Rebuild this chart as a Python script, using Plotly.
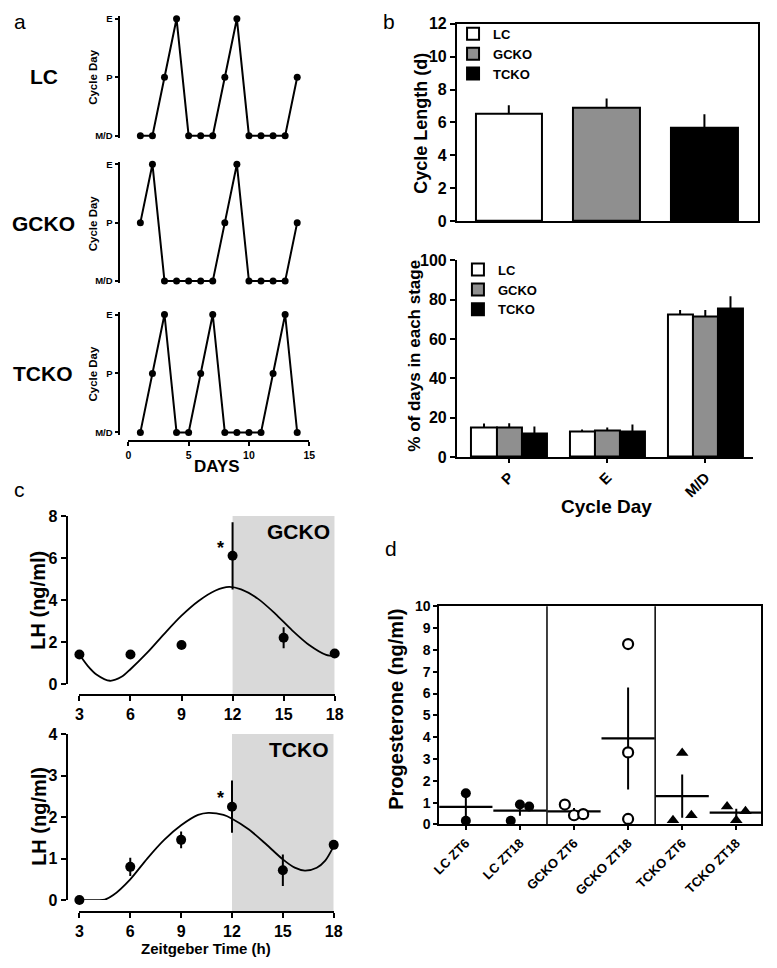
import numpy as np
import plotly.graph_objects as go

W, H = 777, 968
FONT = "Liberation Sans, Arial, sans-serif"


def fx(p):
    return p / W


def fy(p):
    return 1 - p / H


# ---------------- data ----------------
# panel a: estrous stage per day
days = list(range(1, 15))
stage_order = ["M/D", "P", "E"]
lc_stage = ["M/D", "M/D", "P", "E", "M/D", "M/D", "M/D", "P", "E", "M/D", "M/D", "M/D", "M/D", "P"]
gcko_stage = ["P", "E", "M/D", "M/D", "M/D", "M/D", "M/D", "P", "E", "M/D", "M/D", "M/D", "M/D", "P"]
tcko_stage = ["M/D", "P", "E", "M/D", "M/D", "P", "E", "M/D", "M/D", "M/D", "M/D", "P", "E", "M/D"]
day_ticks = [0, 5, 10, 15]

# panel b
genotypes = ["LC", "GCKO", "TCKO"]
geno_colors = ["#ffffff", "#8f8f8f", "#000000"]
cycle_len = [6.55, 6.9, 5.7]
cycle_len_err = [0.5, 0.55, 0.8]
stages = ["P", "E", "M/D"]
pct_lc = [15.0, 12.8, 72.3]
pct_gcko = [15.2, 13.7, 71.5]
pct_tcko = [12.0, 13.0, 75.5]
pct_lc_err = [2.0, 1.2, 2.5]
pct_gcko_err = [2.0, 1.3, 3.3]
pct_tcko_err = [3.5, 3.5, 6.3]

# panel c
zt = [3, 6, 9, 12, 15, 18]
lh_gcko = [1.4, 1.4, 1.85, 6.1, 2.2, 1.45]
lh_gcko_err = [0, 0, 0, 1.6, 0.5, 0]
lh_tcko = [0.0, 0.8, 1.45, 2.25, 0.72, 1.33]
lh_tcko_err = [0, 0.22, 0.2, 0.63, 0.38, 0]
fit_gcko_t = [3, 3.5, 4, 4.8, 5.5, 6, 7, 8, 9, 10, 11, 11.8, 12.5, 13.5, 14.5, 15.5, 16.5, 17.5, 18]
fit_gcko_v = [1.4, 0.85, 0.45, 0.15, 0.35, 0.7, 1.5, 2.4, 3.25, 3.95, 4.45, 4.62, 4.5, 4.05, 3.35, 2.55, 1.85, 1.38, 1.33]
fit_tcko_t = [3, 4, 4.5, 5, 6, 7, 8, 9, 10, 10.6, 11.5, 12, 13, 14, 15, 15.7, 16.3, 17, 17.5, 18]
fit_tcko_v = [0, 0, 0.01, 0.12, 0.5, 1.0, 1.45, 1.8, 2.05, 2.1, 2.05, 1.96, 1.7, 1.35, 0.98, 0.78, 0.71, 0.78, 0.95, 1.3]
zt_ticks = [3, 6, 9, 12, 15, 18]

# panel d
prog_groups = ["LC ZT6", "LC ZT18", "GCKO ZT6", "GCKO ZT18", "TCKO ZT6", "TCKO ZT18"]
prog_values = [
    [1.43, 0.17],
    [0.17, 0.91, 0.82],
    [0.91, 0.42, 0.47],
    [0.25, 3.3, 8.27],
    [0.19, 3.27, 0.42],
    [0.82, 0.19, 0.6],
]

# ---------------- figure ----------------
fig = go.Figure()
BOLD = dict(family=FONT, color="black", weight="bold")

# panel a
for stg, ya in [(lc_stage, "y"), (gcko_stage, "y2"), (tcko_stage, "y3")]:
    fig.add_trace(go.Scatter(
        x=days, y=stg, xaxis="x", yaxis=ya, mode="lines+markers",
        line=dict(color="black", width=2), marker=dict(color="black", size=7),
        showlegend=False, cliponaxis=False))

# panel b top
for i, g in enumerate(genotypes):
    fig.add_trace(go.Bar(
        x=[i], y=[cycle_len[i]], xaxis="x2", yaxis="y4", width=0.68, offset=-0.34,
        marker=dict(color=geno_colors[i], line=dict(color="black", width=2)),
        error_y=dict(type="data", array=[cycle_len_err[i]], arrayminus=[0], symmetric=False,
                     color="black", thickness=2, width=0),
        name=g, legend="legend"))

# panel b bottom
pct_sets = [(pct_lc, pct_lc_err), (pct_gcko, pct_gcko_err), (pct_tcko, pct_tcko_err)]
bw = 0.257
for i, g in enumerate(genotypes):
    vals, errs = pct_sets[i]
    fig.add_trace(go.Bar(
        x=list(range(len(stages))), y=vals, xaxis="x3", yaxis="y5", width=bw,
        offset=-1.5 * bw + i * bw,
        marker=dict(color=geno_colors[i], line=dict(color="black", width=2)),
        error_y=dict(type="data", array=errs, arrayminus=[0] * len(errs), symmetric=False,
                     color="black", thickness=2, width=0),
        name=g, legend="legend2"))

# panel c
for t, v, e, ft, fv, xa, ya in [
    (zt, lh_gcko, lh_gcko_err, fit_gcko_t, fit_gcko_v, "x4", "y6"),
    (zt, lh_tcko, lh_tcko_err, fit_tcko_t, fit_tcko_v, "x5", "y7"),
]:
    fig.add_trace(go.Scatter(
        x=ft, y=fv, xaxis=xa, yaxis=ya, mode="lines",
        line=dict(color="black", width=1.8, shape="spline", smoothing=0.8),
        showlegend=False, hoverinfo="skip"))
    fig.add_trace(go.Scatter(
        x=t, y=v, xaxis=xa, yaxis=ya, mode="markers",
        marker=dict(color="black", size=10),
        error_y=dict(type="data", array=e, color="black", thickness=2, width=0),
        showlegend=False, cliponaxis=False))

# panel d
styles = [("circle", "black"), ("circle", "black"), ("circle", "white"), ("circle", "white"),
          ("triangle-up", "black"), ("triangle-up", "black")]
for gi, vals in enumerate(prog_values):
    vals_arr = np.array(vals)
    n = len(vals_arr)
    spread = 0.17 if (n >= 3 and vals_arr.max() - vals_arr.min() < 4) else 0.0
    xs = [gi + (k - (n - 1) / 2) * spread for k in range(n)]
    sym, col = styles[gi]
    mean = vals_arr.mean()
    sem = vals_arr.std(ddof=1) / np.sqrt(n)
    fig.add_trace(go.Scatter(
        x=[gi], y=[mean], xaxis="x6", yaxis="y8", mode="markers",
        marker=dict(symbol="line-ew", size=38, line=dict(color="black", width=2.2)),
        error_y=dict(type="data", array=[sem], color="black", thickness=2, width=0),
        showlegend=False, cliponaxis=False))
    fig.add_trace(go.Scatter(
        x=xs, y=vals, xaxis="x6", yaxis="y8", mode="markers",
        marker=dict(symbol=sym, size=11 if sym == "triangle-up" else 10, color=col,
                    line=dict(color="black", width=2.2 if col == "white" else 0)),
        showlegend=False, cliponaxis=False))

# ---------------- axes ----------------
ax_common = dict(showline=True, linecolor="black", linewidth=2, ticks="outside", tickcolor="black",
                 tickwidth=2, showgrid=False, zeroline=False)

layout = dict(
    width=W, height=H, margin=dict(l=0, r=0, t=0, b=0),
    paper_bgcolor="white", plot_bgcolor="rgba(0,0,0,0)",
    font=dict(family=FONT, color="black"),
    bargap=0, barmode="overlay",
)

# panel a axes
pad = 0.04
layout["xaxis"] = dict(ax_common, domain=[fx(123), fx(308)], range=[0, 15], anchor="free", position=fy(441),
                       tickvals=day_ticks, ticklen=4, tickfont=dict(BOLD, size=10.5))
for name, top, bot in [("yaxis", 11, 130), ("yaxis2", 159, 278), ("yaxis3", 312, 432)]:
    span = bot - top
    layout[name] = dict(ax_common, type="category", categoryorder="array", categoryarray=stage_order,
                        range=[-pad, 2 + pad], domain=[fy(bot + pad / 2 * span), fy(top - pad / 2 * span)],
                        anchor="free", position=fx(113), ticklen=3, tickwidth=1.5,
                        tickfont=dict(BOLD, size=9.5))

# panel b top
layout["xaxis2"] = dict(ax_common, domain=[fx(459), fx(767)], range=[-0.53, 2.55], anchor="y4",
                        showticklabels=False, ticks="", mirror=True)
layout["yaxis4"] = dict(ax_common, domain=[fy(217), fy(16)], range=[0, 12], dtick=2, anchor="x2",
                        mirror=True, ticklen=5, tickfont=dict(BOLD, size=16))
# panel b bottom
layout["xaxis3"] = dict(ax_common, domain=[fx(459), fx(762)], range=[-0.533, 2.49], anchor="y5",
                        tickvals=[0, 1, 2], ticktext=stages, tickangle=-45, ticklen=4,
                        tickfont=dict(BOLD, size=15))
layout["yaxis5"] = dict(ax_common, domain=[fy(457), fy(257)], range=[0, 100], dtick=20, anchor="x3",
                        ticklen=5, tickfont=dict(BOLD, size=16))
# panel c
layout["xaxis4"] = dict(ax_common, domain=[fx(73), fx(334)], range=[3, 18], anchor="free", position=fy(699),
                        tickvals=zt_ticks, ticklen=5, tickfont=dict(BOLD, size=16))
layout["yaxis6"] = dict(ax_common, domain=[fy(688), fy(517)], range=[0, 8], dtick=2, anchor="free",
                        position=fx(60), ticklen=5, tickfont=dict(BOLD, size=16))
layout["xaxis5"] = dict(ax_common, domain=[fx(73), fx(333)], range=[3, 18], anchor="free", position=fy(920),
                        tickvals=zt_ticks, ticklen=5, tickfont=dict(BOLD, size=16))
layout["yaxis7"] = dict(ax_common, domain=[fy(908), fy(739)], range=[0, 4], dtick=1, anchor="free",
                        position=fx(60), ticklen=5, tickfont=dict(BOLD, size=16))
# panel d
layout["xaxis6"] = dict(ax_common, domain=[fx(441), fx(770)], range=[-0.49, 5.46], anchor="y8",
                        tickvals=list(range(6)), ticktext=prog_groups, tickangle=-45, ticklen=4,
                        mirror=True, tickfont=dict(BOLD, size=13))
layout["yaxis8"] = dict(ax_common, domain=[fy(831), fy(609)], range=[0, 10], dtick=1, anchor="x6",
                        mirror=True, ticklen=4, tickfont=dict(BOLD, size=14))

# legends
leg_common = dict(bgcolor="rgba(0,0,0,0)", font=dict(BOLD, size=13), xanchor="left", yanchor="top",
                  tracegroupgap=0, itemwidth=30)
layout["legend"] = dict(leg_common, x=fx(455), y=fy(11))
layout["legend2"] = dict(leg_common, x=fx(460), y=fy(251))

fig.update_layout(**layout)

# shapes: shading in panel c, dividers in panel d
fig.add_shape(type="rect", xref="x4", yref="paper", x0=12, x1=18, y0=fy(699), y1=fy(517),
              fillcolor="#d9d9d9", line=dict(width=0), layer="below")
fig.add_shape(type="rect", xref="x5", yref="paper", x0=12, x1=18, y0=fy(920), y1=fy(739),
              fillcolor="#d9d9d9", line=dict(width=0), layer="below")
for xv in [1.5, 3.5]:
    fig.add_shape(type="line", xref="x6", yref="y8 domain", x0=xv, x1=xv, y0=0, y1=1,
                  line=dict(color="black", width=1.5))

# annotations
ann = []


def add_text(text, x, y, size, bold=True, angle=0, xanchor="center"):
    ann.append(dict(text=text, x=fx(x), y=fy(y), xref="paper", yref="paper", showarrow=False,
                    textangle=angle, xanchor=xanchor, yanchor="middle",
                    font=dict(family=FONT, size=size, color="black", weight="bold" if bold else "normal")))


add_text("a", 12, 14, 21, bold=False)
add_text("b", 390, 14, 21, bold=False)
add_text("c", 12, 490, 21, bold=False)
add_text("d", 392, 550, 21, bold=False)

add_text("LC", 37, 70, 21)
add_text("GCKO", 36, 219, 21)
add_text("TCKO", 36, 372, 21)
for yc in [70, 219, 372]:
    add_text("Cycle Day", 87, yc, 11.5, angle=-90)
add_text("DAYS", 214, 467, 17)

add_text("Cycle Length (d)", 422, 117, 18, angle=-90)
add_text("% of days in each stage", 416, 354, 17, angle=-90)
add_text("Cycle Day", 612, 507, 19)

add_text("LH (ng/ml)", 31, 603, 20, angle=-90)
add_text("LH (ng/ml)", 31, 823, 20, angle=-90)
add_text("GCKO", 297, 533, 21)
add_text("TCKO", 298, 755, 21)
add_text("Zeitgeber Time (h)", 202, 957, 15)
add_text("*", 217, 550, 18)
add_text("*", 217, 804, 18)

add_text("Progesterone (ng/ml)", 397, 714, 20, angle=-90)

fig.update_layout(annotations=ann)
fig.write_html(
    "out.html",
    config={"displayModeBar": False},
    post_script="document.body.style.margin='0';document.body.style.overflow='hidden';",
)
